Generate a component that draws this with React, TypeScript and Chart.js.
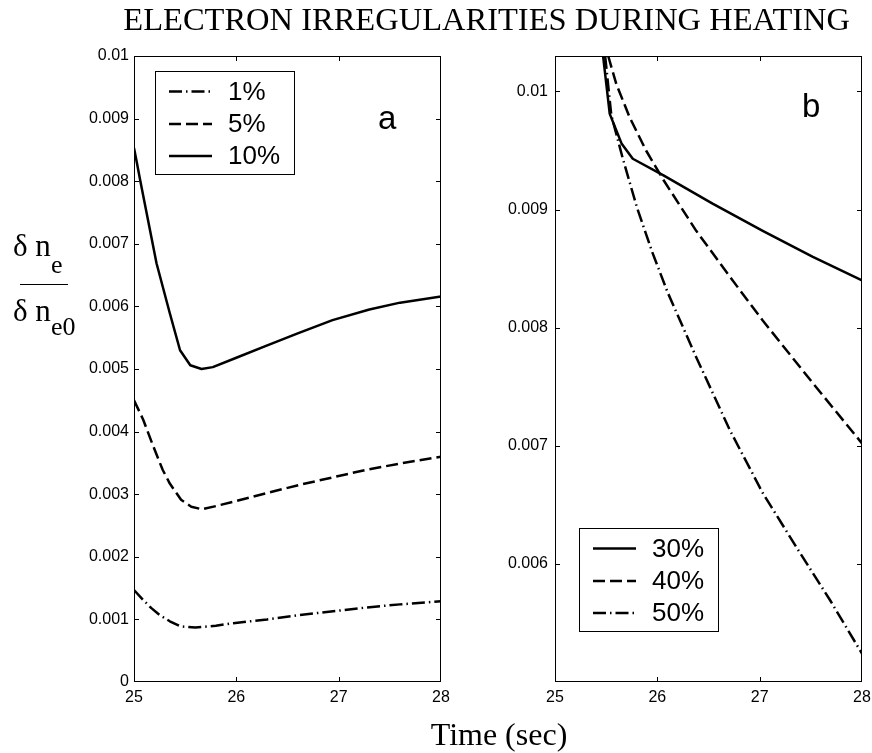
import React, { useEffect, useRef } from "react";
import { Chart, registerables } from "chart.js";
Chart.register(...registerables);

// ---------- Panel a ----------
const tA1 = [25.0, 25.09, 25.17, 25.25, 25.35, 25.45, 25.6, 25.8, 25.97, 26.3, 26.62, 27.0, 27.27, 27.6, 28.0];
const vA1 = [0.00147, 0.00131, 0.00118, 0.00107, 0.00097, 0.00089, 0.00087, 0.0009, 0.00094, 0.001, 0.00107, 0.00114, 0.00119, 0.00124, 0.00129];
const tA5 = [25.0, 25.09, 25.18, 25.28, 25.35, 25.46, 25.56, 25.66, 25.8, 25.97, 26.3, 26.62, 27.0, 27.27, 27.6, 28.0];
const vA5 = [0.0045, 0.00419, 0.0038, 0.00339, 0.00317, 0.00291, 0.0028, 0.00276, 0.00281, 0.00288, 0.00302, 0.00315, 0.00329, 0.00339, 0.00349, 0.0036];
const tA10 = [25.0, 25.03, 25.06, 25.12, 25.22, 25.35, 25.45, 25.55, 25.66, 25.77, 26.0, 26.29, 26.6, 26.94, 27.3, 27.6, 28.0];
const vA10 = [0.00853, 0.00828, 0.00802, 0.00752, 0.00669, 0.00589, 0.0053, 0.00506, 0.005, 0.00503, 0.00518, 0.00537, 0.00557, 0.00578, 0.00595, 0.00606, 0.00616];
const labelsA = ["1%", "5%", "10%"];

// ---------- Panel b ----------
const tB30 = [25.47, 25.535, 25.65, 25.76, 26.06, 26.54, 27.03, 27.52, 28.0];
const vB30 = [0.0103, 0.00981, 0.00956, 0.00943, 0.00929, 0.00905, 0.00882, 0.0086, 0.0084];
const tB40 = [25.52, 25.6, 25.73, 25.89, 26.06, 26.38, 26.71, 27.03, 27.52, 28.0];
const vB40 = [0.0103, 0.01006, 0.00978, 0.0095, 0.00925, 0.00882, 0.00843, 0.00806, 0.00753, 0.00702];
const tB50 = [25.49, 25.55, 25.66, 25.8, 25.95, 26.1, 26.38, 26.71, 27.03, 27.36, 27.69, 28.0];
const vB50 = [0.0103, 0.0098, 0.00944, 0.00902, 0.00864, 0.0083, 0.00775, 0.00713, 0.0066, 0.00614, 0.00569, 0.00524];
const labelsB = ["30%", "40%", "50%"];

// ---------- ticks ----------
const xTicks = [25, 26, 27, 28];
const xTickLabels = ["25", "26", "27", "28"];
const yTicksA = [0, 0.001, 0.002, 0.003, 0.004, 0.005, 0.006, 0.007, 0.008, 0.009, 0.01];
const yTickLabelsA = ["0", "0.001", "0.002", "0.003", "0.004", "0.005", "0.006", "0.007", "0.008", "0.009", "0.01"];
const yTicksB = [0.006, 0.007, 0.008, 0.009, 0.01];
const yTickLabelsB = ["0.006", "0.007", "0.008", "0.009", "0.01"];

const SOLID: number[] = [];
const DASH = [12, 5];
const DASHDOT = [13, 4, 1.5, 4];

const SANS = '"Liberation Sans", Arial, sans-serif';
const SERIF = '"Liberation Serif", "Times New Roman", serif';

const pts = (t: number[], v: number[]) => t.map((x, i) => ({ x, y: v[i] }));

const framePlugin = {
  id: "frame",
  afterDatasetsDraw(chart: any, _a: any, o: any) {
    const ctx = chart.ctx;
    const { left, right, top, bottom } = chart.chartArea;
    const xs = chart.scales.x;
    const ys = chart.scales.y;
    ctx.save();
    ctx.strokeStyle = "#000";
    ctx.lineWidth = 1;
    ctx.setLineDash([]);
    const L = 5;
    ctx.beginPath();
    xs.ticks.forEach((t: any) => {
      const p = Math.round(xs.getPixelForValue(t.value)) + 0.5;
      if (p > left + 2 && p < right - 2) {
        ctx.moveTo(p, bottom);
        ctx.lineTo(p, bottom - L);
        ctx.moveTo(p, top);
        ctx.lineTo(p, top + L);
      }
    });
    ys.ticks.forEach((t: any) => {
      const p = Math.round(ys.getPixelForValue(t.value)) + 0.5;
      if (p > top + 2 && p < bottom - 2) {
        ctx.moveTo(left, p);
        ctx.lineTo(left + L, p);
        ctx.moveTo(right, p);
        ctx.lineTo(right - L, p);
      }
    });
    ctx.stroke();
    ctx.strokeRect(left + 0.5, top + 0.5, right - left - 1, bottom - top - 1);

    // legend
    const bx = Math.round(left + o.lx);
    const by = Math.round(top + o.ly);
    const w = 139;
    const h = 103;
    ctx.fillStyle = "#fff";
    ctx.fillRect(bx, by, w, h);
    ctx.strokeRect(bx + 0.5, by + 0.5, w, h);
    const rowY = [20.5, 53, 85];
    ctx.font = `26px ${SANS}`;
    ctx.textBaseline = "middle";
    ctx.textAlign = "left";
    ctx.fillStyle = "#000";
    chart.data.datasets.forEach((ds: any, i: number) => {
      const yy = by + rowY[i];
      ctx.beginPath();
      ctx.lineWidth = 2.5;
      ctx.setLineDash(ds.borderDash || []);
      ctx.moveTo(bx + 14, yy);
      ctx.lineTo(bx + 57, yy);
      ctx.stroke();
      ctx.setLineDash([]);
      ctx.fillText(ds.label, bx + 73, yy + 1);
    });

    // panel letter
    ctx.font = `33px ${SANS}`;
    ctx.textBaseline = "alphabetic";
    ctx.fillText(o.letter, left + o.ax, top + o.ay);
    ctx.restore();
  },
};

function makeChart(
  canvas: HTMLCanvasElement,
  sets: { label: string; data: { x: number; y: number }[]; dash: number[] }[],
  yMin: number,
  yMax: number,
  yTicks: number[],
  yLabels: string[],
  yWidth: number,
  yPad: number,
  padRight: number,
  frame: any
) {
  return new Chart(canvas, {
    type: "scatter",
    data: {
      datasets: sets.map((s) => ({
        label: s.label,
        data: s.data,
        showLine: true,
        borderColor: "#000",
        backgroundColor: "#000",
        borderWidth: 2.5,
        borderDash: s.dash,
        borderJoinStyle: "round",
        pointRadius: 0,
        tension: 0,
        clip: 0,
      })),
    },
    options: {
      responsive: false,
      animation: false,
      devicePixelRatio: 1,
      layout: { padding: { top: 56, right: padRight, bottom: 0, left: 0 } },
      plugins: {
        legend: { display: false },
        tooltip: { enabled: false },
        frame,
      } as any,
      scales: {
        x: {
          type: "linear",
          min: 25,
          max: 28,
          afterBuildTicks: (s: any) => {
            s.ticks = xTicks.map((v) => ({ value: v }));
          },
          afterFit: (s: any) => {
            s.height = 71;
            s.paddingLeft = 0;
            s.paddingRight = 0;
          },
          grid: { display: false, drawTicks: false },
          border: { display: false },
          ticks: {
            color: "#000",
            font: { size: 16, family: SANS },
            padding: 6,
            maxRotation: 0,
            callback: (_v: any, i: number) => xTickLabels[i],
          },
        },
        y: {
          type: "linear",
          min: yMin,
          max: yMax,
          afterBuildTicks: (s: any) => {
            s.ticks = yTicks.map((v) => ({ value: v }));
          },
          afterFit: (s: any) => {
            s.width = yWidth;
            s.paddingTop = 0;
            s.paddingBottom = 0;
          },
          grid: { display: false, drawTicks: false },
          border: { display: false },
          ticks: {
            color: "#000",
            font: { size: 16, family: SANS },
            padding: yPad,
            callback: (_v: any, i: number) => yLabels[i],
          },
        },
      },
    } as any,
    plugins: [framePlugin as any],
  });
}

export default function App() {
  const refA = useRef<HTMLCanvasElement>(null);
  const refB = useRef<HTMLCanvasElement>(null);

  useEffect(() => {
    const a = makeChart(
      refA.current!,
      [
        { label: labelsA[0], data: pts(tA1, vA1), dash: DASHDOT },
        { label: labelsA[1], data: pts(tA5, vA5), dash: DASH },
        { label: labelsA[2], data: pts(tA10, vA10), dash: SOLID },
      ],
      0,
      0.01,
      yTicksA,
      yTickLabelsA,
      134,
      5,
      9,
      { lx: 21, ly: 15, letter: "a", ax: 244, ay: 73 }
    );
    const b = makeChart(
      refB.current!,
      [
        { label: labelsB[0], data: pts(tB30, vB30), dash: SOLID },
        { label: labelsB[1], data: pts(tB40, vB40), dash: DASH },
        { label: labelsB[2], data: pts(tB50, vB50), dash: DASHDOT },
      ],
      0.005,
      0.0103,
      yTicksB,
      yTickLabelsB,
      105,
      7,
      10,
      { lx: 24, ly: 472, letter: "b", ax: 247, ay: 61 }
    );
    return () => {
      a.destroy();
      b.destroy();
    };
  }, []);

  const abs = (o: React.CSSProperties): React.CSSProperties => ({
    position: "absolute",
    whiteSpace: "nowrap",
    lineHeight: 1,
    color: "#000",
    ...o,
  });

  return (
    <div style={{ position: "absolute", left: 0, top: 0, width: 872, height: 753, background: "#fff", overflow: "hidden" }}>
      <canvas ref={refA} width={450} height={753} style={{ position: "absolute", left: 0, top: 0, width: 450, height: 753 }} />
      <canvas ref={refB} width={422} height={753} style={{ position: "absolute", left: 450, top: 0, width: 422, height: 753 }} />
      <div style={abs({ left: 486.7, top: 3, transform: "translateX(-50%)", fontFamily: SERIF, fontSize: 32.5 })}>
        ELECTRON IRREGULARITIES DURING HEATING
      </div>
      <div style={abs({ left: 499, top: 718, transform: "translateX(-50%)", fontFamily: SERIF, fontSize: 32 })}>
        Time (sec)
      </div>
      <div style={abs({ left: 13, top: 230, fontFamily: SERIF, fontSize: 31 })}>δ n</div>
      <div style={abs({ left: 51, top: 252, fontFamily: SERIF, fontSize: 26 })}>e</div>
      <div style={{ position: "absolute", left: 20, top: 284, width: 48, height: 1, background: "#000" }} />
      <div style={abs({ left: 13, top: 295, fontFamily: SERIF, fontSize: 31 })}>δ n</div>
      <div style={abs({ left: 51, top: 314, fontFamily: SERIF, fontSize: 26 })}>e0</div>
    </div>
  );
}
